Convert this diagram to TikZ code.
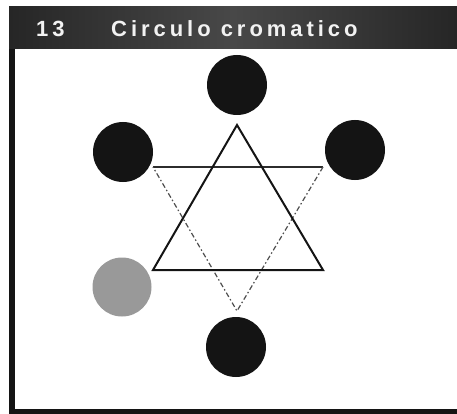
\documentclass[tikz,border=0pt]{standalone}
\usepackage{fontspec}
\newfontfamily\titlefont[LetterSpace=18]{Liberation Sans}
\definecolor{barA}{HTML}{262626}
\definecolor{barB}{HTML}{484848}
\definecolor{ink}{HTML}{141414}
\definecolor{discgray}{HTML}{999999}
\tikzset{
  disc/.style={circle, fill=ink, draw=none, minimum size=60pt, inner sep=0pt},
  graydisc/.style={circle, fill=discgray, draw=none, minimum size=59pt, inner sep=0pt},
  solidtri/.style={draw=ink, line width=2pt, line join=miter},
  dashtri/.style={draw=ink!75, line width=1.2pt, dash pattern=on 5pt off 2.5pt on 1.5pt off 2.5pt},
  thinline/.style={draw=ink!90, line width=1.3pt},
  titletext/.style={text=white!95!black, inner sep=0pt, font=\titlefont\bfseries\fontsize{22}{26}\selectfont},
}
\begin{document}
\begin{tikzpicture}[x=1pt,y=-1pt]
\useasboundingbox (0,0) rectangle (457,414);
% title bar
\shade[left color=barA, right color=barA, middle color=barB] (9,7) rectangle (457,49);
% frame
\fill[ink] (9,49) rectangle (15,414);
\fill[ink] (9,409) rectangle (457,414);
% title texts
\node[titletext, anchor=base west] (num) at (36,37) {13};
\node[titletext, anchor=base west] (title) at (111,37) {Circulo cromatico};
% discs
\node[disc] (top) at (237,85) {};
\node[disc] (ul) at (123,152) {};
\node[disc] (ur) at (355,150) {};
\node[graydisc] (ll) at (122,287) {};
\node[disc] (bot) at (236,347) {};
% triangles
\coordinate (sA) at (237,125);
\coordinate (sB) at (153,270);
\coordinate (sC) at (323,270);
\coordinate (dA) at (153,167);
\coordinate (dB) at (323,167);
\coordinate (dC) at (237,311);
\draw[thinline] (dA) -- (dB);
\draw[dashtri] (dB) -- (dC) -- (dA);
\draw[solidtri] (sA) -- (sC) -- (sB) -- cycle;
\end{tikzpicture}
\end{document}
